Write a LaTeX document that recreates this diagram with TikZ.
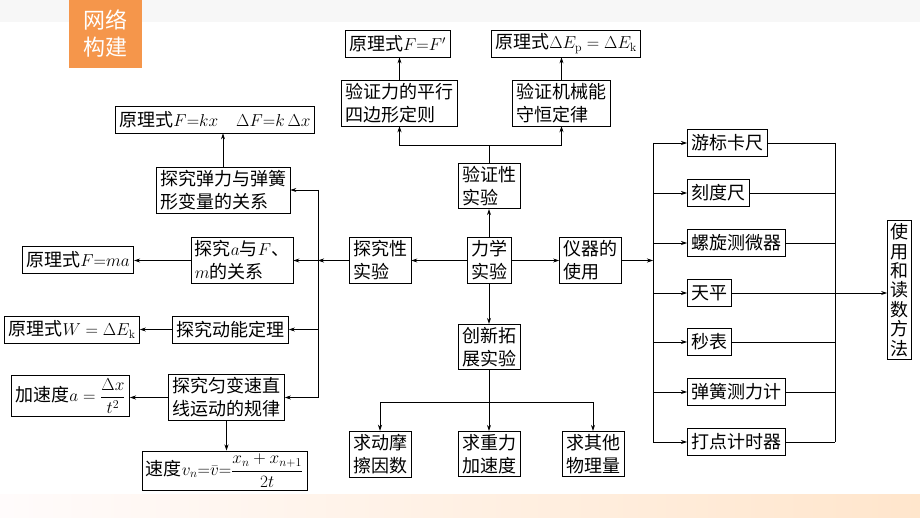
\documentclass[tikz,border=0pt]{standalone}
\usepackage{amsmath}
\usepackage[no-math]{fontspec}
\setmainfont{Noto Sans CJK SC}
\usetikzlibrary{arrows.meta}

\definecolor{tagorange}{RGB}{245,150,75}

\tikzset{
  box/.style={draw, line width=0.7pt, inner xsep=4pt, inner ysep=3pt, minimum height=27pt, align=left, font=\fontsize{18}{23}\selectfont},
  link/.style={line width=0.7pt},
}

\begin{document}
\begin{tikzpicture}[x=1pt, y=-1pt, >={Stealth[length=6pt,width=4pt]}]
    % Fix the page to the slide size
    \useasboundingbox (0,0) rectangle (920,518);

    % Slide bands and title tag
    \fill[gray!6] (0,0) rectangle (920,22);
    \shade[left color=pink!6, right color=orange!20] (0,494) rectangle (920,518);
    \fill[tagorange] (69,0) rectangle (142,68);
    \node[font=\fontsize{22}{27}\selectfont, text=white, align=center] (tag) at (105.5,34) {网络\\构建};

    % Centre and its four branches
    \node[box] (lixue) at (489,260.5) {力学\\实验};
    \node[box] (tanjiuxing) at (380,260.5) {探究性\\实验};
    \node[box] (yanzheng) at (489,186) {验证性\\实验};
    \node[box] (yiqi) at (590.5,260.5) {仪器的\\使用};
    \node[box] (chuangxin) at (489,347) {创新拓\\展实验};

    % Verification experiments
    \node[box] (pingxing) at (399.5,103) {验证力的平行\\四边形定则};
    \node[box] (jixie) at (561.5,103) {验证机械能\\守恒定律};
    \node[box] (FF) at (397.5,43.5) {原理式$F{=}F'$};
    \node[box] (Ep) at (566,43.5) {原理式$\Delta E_{\mathrm{p}}=\Delta E_{\mathrm{k}}$};

    % Exploratory experiments
    \node[box] (tanli) at (223,190) {探究弹力与弹簧\\形变量的关系};
    \node[box] (kx) at (215,119.5) {原理式$F{=}kx\quad \Delta F{=}k\,\Delta x$};
    \node[box] (aF) at (242,260.5) {探究$a$与$F$、\\$m$的关系};
    \node[box] (Fma) at (78,259.5) {原理式$F{=}ma$};
    \node[box] (dongneng) at (230.5,329.5) {探究动能定理};
    \node[box] (W) at (72,329.5) {原理式$W=\Delta E_{\mathrm{k}}$};
    \node[box] (yunbian) at (226.5,397.5) {探究匀变速直\\线运动的规律};
    \node[box] (jiasudu) at (70.5,396) {加速度$a=\dfrac{\Delta x}{t^2}$};
    \node[box] (sudu) at (224.5,470.5) {速度$v_n{=}\bar{v}{=}\dfrac{x_n+x_{n+1}}{2t}$};

    % Creative experiments
    \node[box] (mocha) at (380,454) {求动摩\\擦因数};
    \node[box] (zhongli) at (489,454) {求重力\\加速度};
    \node[box] (qita) at (593,454) {求其他\\物理量};

    % Instruments
    \node[box, anchor=west] (youbiao) at (687,143) {游标卡尺};
    \node[box, anchor=west] (kedu) at (687,193) {刻度尺};
    \node[box, anchor=west] (luoxuan) at (687,243) {螺旋测微器};
    \node[box, anchor=west] (tianping) at (687,293) {天平};
    \node[box, anchor=west] (miaobiao) at (687,342) {秒表};
    \node[box, anchor=west] (tanhuang) at (687,392) {弹簧测力计};
    \node[box, anchor=west] (dadian) at (687,442) {打点计时器};
    \node[box, align=center, inner xsep=3pt, font=\fontsize{18}{19.4}\selectfont] (fangfa) at (899.5,290) {使\\用\\和\\读\\数\\方\\法};

    % Junction points
    \coordinate (lbus) at (318,260.5);
    \coordinate (rbus) at (653,260.5);
    \coordinate (rjoin) at (835,293);
    \coordinate (tsplit) at (489,145);
    \coordinate (bsplit) at (489,402);

    % Centre arrows
    \draw[link, ->] (lixue) -- (tanjiuxing);
    \draw[link, ->] (lixue) -- (yanzheng);
    \draw[link, ->] (lixue) -- (yiqi);
    \draw[link, ->] (lixue) -- (chuangxin);

    % Up to the verification boxes
    \draw[link] (yanzheng.north) -- (tsplit);
    \draw[link, ->] (tsplit) -| (pingxing.south);
    \draw[link, ->] (tsplit) -| (jixie.south);
    \draw[link, ->] (pingxing.north) -- (pingxing.north |- FF.south);
    \draw[link, ->] (jixie.north) -- (jixie.north |- Ep.south);

    % Left bus
    \draw[link, ->] (tanjiuxing.west) -- (lbus);
    \draw[link] (lbus |- tanli.east) -- (lbus |- yunbian.east);
    \foreach \n in {tanli, aF, dongneng, yunbian}
        \draw[link, ->] (lbus |- \n.east) -- (\n.east);
    \draw[link, ->] (tanli.north) -- (tanli.north |- kx.south);
    \draw[link, ->] (aF.west) -- (aF.west -| Fma.east);
    \draw[link, ->] (dongneng.west) -- (dongneng.west -| W.east);
    \draw[link, ->] (yunbian.west) -- (yunbian.west -| jiasudu.east);
    \draw[link, ->] (yunbian.south) -- (yunbian.south |- sudu.north);

    % Down to the creative boxes
    \draw[link] (chuangxin.south) -- (bsplit);
    \draw[link, ->] (bsplit) -| (mocha.north);
    \draw[link, ->] (bsplit) -- (zhongli.north);
    \draw[link, ->] (bsplit) -| (qita.north);

    % Right bus and the instruments
    \draw[link, ->] (yiqi.east) -- (rbus);
    \draw[link] (rbus |- youbiao.west) -- (rbus |- dadian.west);
    \draw[link] (rjoin |- youbiao.east) -- (rjoin |- dadian.east);
    \foreach \n in {youbiao, kedu, luoxuan, tianping, miaobiao, tanhuang, dadian} {
        \draw[link, ->] (rbus |- \n.west) -- (\n.west);
        \draw[link] (\n.east) -- (rjoin |- \n.east);
    }
    \draw[link, ->] (rjoin) -- (rjoin -| fangfa.west);

\end{tikzpicture}
\end{document}
